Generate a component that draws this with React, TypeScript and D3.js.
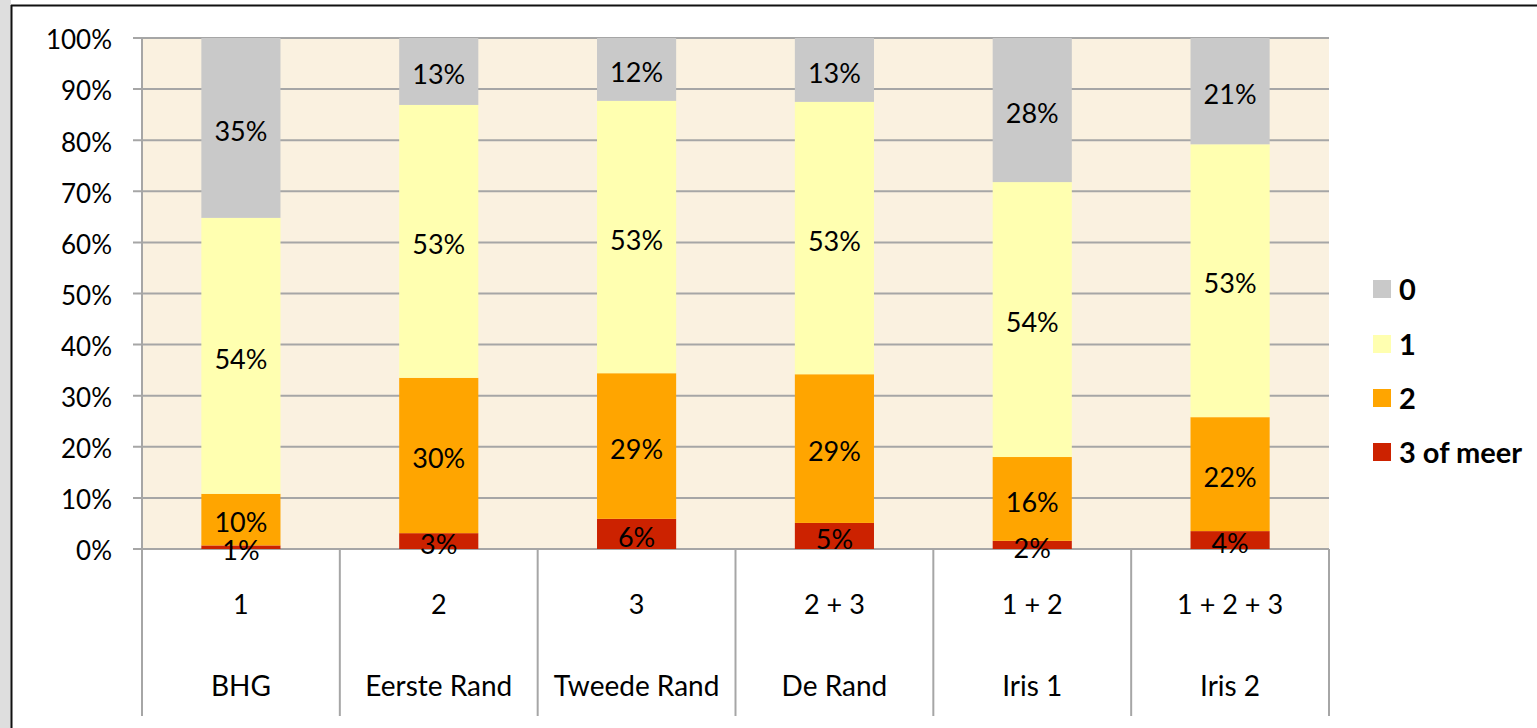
import React from "react";
import * as d3 from "d3";

const categories = ["BHG", "Eerste Rand", "Tweede Rand", "De Rand", "Iris 1", "Iris 2"];
const subLabels = ["1", "2", "3", "2 + 3", "1 + 2", "1 + 2 + 3"];
const seriesNames = ["3 of meer", "2", "1", "0"];
const s3ofMeer = [0.7, 3.1, 5.9, 5.1, 1.6, 3.5];
const s2 = [10.1, 30.4, 28.5, 29.1, 16.4, 22.3];
const s1 = [54.0, 53.4, 53.3, 53.3, 53.8, 53.4];
const s0 = [35.2, 13.1, 12.3, 12.5, 28.2, 20.8];
const yTicks = [0, 10, 20, 30, 40, 50, 60, 70, 80, 90, 100];
const colors = ["#CC2200", "#FFA500", "#FFFFB0", "#C9C9C9"];

const W = 1537, H = 728;
const plot = { left: 142, right: 1329, top: 38, bottom: 549 };
const FONT = "Lato, 'Open Sans', sans-serif";

export default function App() {
  const rows = categories.map((c, i) => ({ cat: c, "3 of meer": s3ofMeer[i], "2": s2[i], "1": s1[i], "0": s0[i] }));
  const stack = d3.stack<any>().keys(seriesNames)(rows);
  const x = d3.scaleBand().domain(categories).range([plot.left, plot.right]).paddingInner(0).paddingOuter(0);
  const y = d3.scaleLinear().domain([0, 100]).range([plot.bottom, plot.top]);
  const bw = x.bandwidth() * 0.4;
  const fs = 26;
  const legendYs = [289, 344, 398, 452];
  const legendOrder = ["0", "1", "2", "3 of meer"];
  return (
    <svg width={W} height={H} style={{ position: "absolute", left: 0, top: 0 }} fontFamily={FONT}>
      <rect x={0} y={0} width={W} height={H} fill="#ffffff" />
      <rect x={0} y={0} width={11} height={H} fill="#dedede" />
      <line x1={11.5} y1={5} x2={11.5} y2={H} stroke="#111" strokeWidth={2} />
      <line x1={11} y1={5.5} x2={W} y2={5.5} stroke="#111" strokeWidth={2} />
      <rect x={plot.left} y={plot.top} width={plot.right - plot.left} height={plot.bottom - plot.top} fill="#FAF1E0" />
      {yTicks.map((t) => (
        <g key={t}>
          <line x1={plot.left - 9} x2={plot.right} y1={y(t)} y2={y(t)} stroke="#A6A6A6" strokeWidth={2} />
          <text x={112} y={y(t) + 2} dy="0.36em" textAnchor="end" fontSize={fs} fill="#000">{t}%</text>
        </g>
      ))}
      <line x1={plot.left} x2={plot.left} y1={plot.top} y2={716} stroke="#A6A6A6" strokeWidth={2} />
      {categories.map((c) => (
        <line key={c} x1={(x(c) as number) + x.bandwidth()} x2={(x(c) as number) + x.bandwidth()} y1={plot.bottom} y2={716} stroke="#A6A6A6" strokeWidth={2} />
      ))}
      {stack.map((s, si) => (
        <g key={s.key}>
          {s.map((d, i) => {
            const cx = (x(categories[i]) as number) + x.bandwidth() / 2;
            return (
              <rect key={i} x={cx - bw / 2} y={y(d[1])} width={bw} height={y(d[0]) - y(d[1])} fill={colors[si]} />
            );
          })}
        </g>
      ))}
      {stack.map((s) => (
        <g key={s.key + "l"}>
          {s.map((d, i) => {
            const cx = (x(categories[i]) as number) + x.bandwidth() / 2;
            const v = d[1] - d[0];
            return (
              <text key={i} x={cx} y={(y(d[0]) + y(d[1])) / 2 + 3} dy="0.36em" textAnchor="middle" fontSize={fs + 1} fill="#000">
                {Math.round(v)}%
              </text>
            );
          })}
        </g>
      ))}
      {categories.map((c, i) => {
        const cx = (x(c) as number) + x.bandwidth() / 2;
        return (
          <g key={c + "t"}>
            <text x={cx} y={604} dy="0.36em" textAnchor="middle" fontSize={fs + 1}>{subLabels[i]}</text>
            <text x={cx} y={686} dy="0.36em" textAnchor="middle" fontSize={fs + 2}>{c}</text>
          </g>
        );
      })}
      {legendOrder.map((k, i) => (
        <g key={k}>
          <rect x={1373} y={legendYs[i] - 9} width={18} height={18} fill={colors[seriesNames.indexOf(k)]} />
          <text x={1399} y={legendYs[i] + 1} dy="0.36em" fontSize={29} fontWeight="bold">{k}</text>
        </g>
      ))}
    </svg>
  );
}
